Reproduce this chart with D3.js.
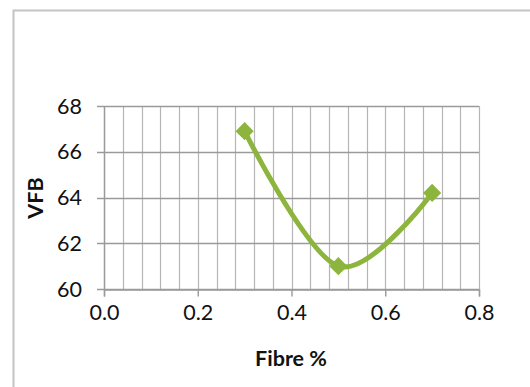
<!DOCTYPE html>
<html>
<head>
<meta charset="utf-8">
<script src="https://cdn.jsdelivr.net/npm/d3@7"></script>
<style>
  html, body { margin: 0; padding: 0; background: #fff; }
  svg { display: block; }
  text { font-family: Lato, "Open Sans", sans-serif; fill: #111; }
</style>
</head>
<body>
<script>
// VFB against fibre content
const fibre = [0.3, 0.5, 0.7];
const vfb = [66.9, 61.0, 64.2];
const xTicks = [0.0, 0.2, 0.4, 0.6, 0.8];
const yTicks = [60, 62, 64, 66, 68];
const xGrid = d3.range(0, 21).map(i => i * 0.04);

const W = 530, H = 387;
const svg = d3.select("body").append("svg").attr("width", W).attr("height", H);

// chart frame
svg.append("rect")
  .attr("x", 13.5).attr("y", 10.5)
  .attr("width", W + 20).attr("height", H + 20)
  .attr("fill", "none").attr("stroke", "#c4c4c4").attr("stroke-width", 2);

const x = d3.scaleLinear().domain([0, 0.8]).range([104, 479]);
const y = d3.scaleLinear().domain([60, 68]).range([289, 106]);

const grid = svg.append("g");
// vertical minor gridlines
grid.selectAll("line.v").data(xGrid).join("line")
  .attr("class", "v")
  .attr("x1", d => Math.round(x(d)) + 0.5).attr("x2", d => Math.round(x(d)) + 0.5)
  .attr("y1", y(68)).attr("y2", y(60))
  .attr("stroke", "#b5b5b5").attr("stroke-width", 1.2);
// horizontal gridlines with outward ticks
grid.selectAll("line.h").data(yTicks).join("line")
  .attr("class", "h")
  .attr("x1", x(0) - 7).attr("x2", x(0.8))
  .attr("y1", d => Math.round(y(d)) + 0.5).attr("y2", d => Math.round(y(d)) + 0.5)
  .attr("stroke", "#9a9a9a").attr("stroke-width", 1.4);

// x axis with major ticks
const xAxis = d3.axisBottom(x).tickValues(xTicks).tickFormat(d3.format(".1f"))
  .tickSize(7).tickPadding(8);
const gx = svg.append("g").attr("transform", `translate(0,${Math.round(y(60)) + 0.5})`).call(xAxis);
gx.select(".domain").attr("stroke", "#9a9a9a").attr("stroke-width", 1.4);
gx.selectAll(".tick line").attr("stroke", "#9a9a9a").attr("stroke-width", 1.4);
gx.selectAll(".tick text").attr("font-size", 21.5).attr("fill", "#111")
  .attr("font-family", "Lato, 'Open Sans', sans-serif");

// y axis line and labels
svg.append("line")
  .attr("x1", Math.round(x(0)) + 0.5).attr("x2", Math.round(x(0)) + 0.5)
  .attr("y1", y(68)).attr("y2", y(60))
  .attr("stroke", "#9a9a9a").attr("stroke-width", 1.4);
svg.append("g").selectAll("text").data(yTicks).join("text")
  .attr("x", 82).attr("y", d => y(d))
  .attr("dy", "0.36em")
  .attr("text-anchor", "end")
  .attr("font-size", 21.5)
  .text(d => d);

// series line
const pts = fibre.map((f, i) => [x(f), y(vfb[i])]);
svg.append("path")
  .attr("d", d3.line().curve(d3.curveCardinal.tension(0))(pts))
  .attr("fill", "none")
  .attr("stroke", "#8db43c")
  .attr("stroke-width", 5)
  .attr("stroke-linecap", "round");

// diamond markers
svg.append("g").selectAll("path").data(pts).join("path")
  .attr("transform", d => `translate(${d[0]},${d[1]})`)
  .attr("d", d3.symbol().type(d3.symbolDiamond2).size(210)())
  .attr("fill", "#8db43c");

// axis titles
svg.append("text")
  .attr("x", 291).attr("y", 366)
  .attr("text-anchor", "middle")
  .attr("font-size", 21.5).attr("font-weight", "bold")
  .text("Fibre %");
svg.append("text")
  .attr("transform", "translate(43,198) rotate(-90)")
  .attr("text-anchor", "middle")
  .attr("font-size", 21.5).attr("font-weight", "bold")
  .text("VFB");
</script>
</body>
</html>
